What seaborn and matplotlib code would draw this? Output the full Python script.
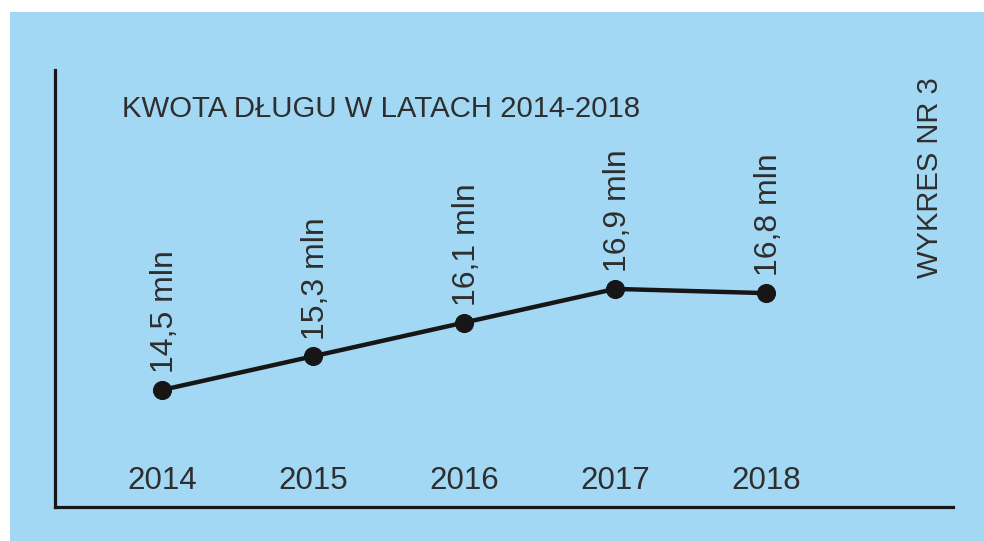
import matplotlib
matplotlib.use("Agg")
import matplotlib.pyplot as plt
import matplotlib.transforms as mtransforms
from matplotlib.patches import Rectangle
import pandas as pd
import seaborn as sns

years = [2014, 2015, 2016, 2017, 2018]
debt = [14.5, 15.3, 16.1, 16.9, 16.8]
title = "KWOTA DŁUGU W LATACH 2014-2018"
side_label = "WYKRES NR 3"

BG = "#a3d8f4"
INK = "#161616"
TXT = "#2e2e2e"

sns.set_style("white")
plt.rcParams["font.family"] = ["Liberation Sans", "DejaVu Sans"]

df = pd.DataFrame({"year": years, "debt": debt})

fig = plt.figure(figsize=(9.84, 5.41), dpi=100)
fig.patch.set_facecolor("white")
# blue panel (white margin only on top and left)
fig.patches.append(Rectangle((10 / 984, 0), 1, 1 - 12 / 541,
                             transform=fig.transFigure, facecolor=BG,
                             edgecolor="none", zorder=0))

ax = fig.add_axes([55 / 984, (541 - 507) / 541, (953 - 55) / 984, (507 - 70) / 541])
ax.set_facecolor("none")
ax.set_zorder(2)

sns.lineplot(data=df, x="year", y="debt", ax=ax, color=INK, linewidth=3.2,
             marker="o", markersize=13, markeredgecolor=INK, clip_on=False)

ax.set_xlim(2013.291, 2019.238)
ax.set_ylim(11.72, 22.10)
ax.set_xticks([])
ax.set_yticks([])
ax.set_xlabel("")
ax.set_ylabel("")
for s in ["top", "right"]:
    ax.spines[s].set_visible(False)
for s in ["left", "bottom"]:
    ax.spines[s].set_color(INK)
    ax.spines[s].set_linewidth(2.3)

# value labels above the points
for yr, v in zip(years, debt):
    ax.annotate(f"{v:.1f}".replace(".", ",") + " mln", (yr, v),
                xytext=(2, 12), textcoords="offset points",
                rotation=90, ha="center", va="bottom",
                fontsize=23, color=TXT)

# year labels along the bottom
trans = mtransforms.blended_transform_factory(ax.transData, fig.transFigure)
for yr in years:
    ax.text(yr, 1 - 489 / 541, str(yr), transform=trans, ha="center",
            va="baseline", fontsize=22.5, color=TXT)

fig.text(122 / 984, 1 - 117 / 541, title, ha="left", va="baseline",
         fontsize=21.2, color=TXT, zorder=3)
fig.text(930 / 984, 1 - 178 / 541, side_label, rotation=90, ha="center",
         va="center", fontsize=21, color=TXT, zorder=3)

plt.savefig("out.png", dpi=100, facecolor=fig.get_facecolor())
plt.close()
